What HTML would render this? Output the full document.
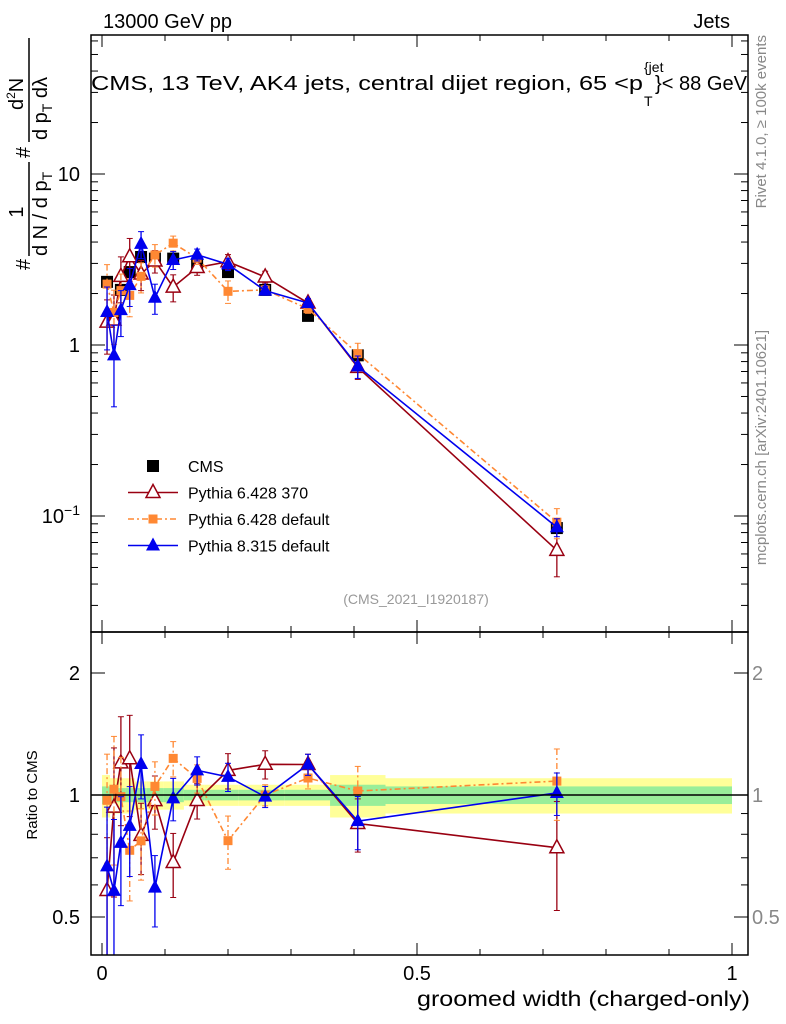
<!DOCTYPE html>
<html><head><meta charset="utf-8"><style>
body{margin:0;background:#fff;}
svg{display:block;font-family:"Liberation Sans",sans-serif;}
</style></head><body>
<svg id="chart" width="786" height="1024" xmlns="http://www.w3.org/2000/svg">
<defs><clipPath id="clipTop"><rect x="91" y="35" width="657" height="597"/></clipPath><clipPath id="clipRatio"><rect x="91" y="632" width="657" height="323"/></clipPath></defs>
</svg>
<script>
const xs=[0.008,0.019,0.030,0.044,0.062,0.084,0.113,0.151,0.200,0.259,0.327,0.406,0.722];
const cmsVals=[2.34,1.5,2.1,2.67,3.27,3.2,3.2,2.93,2.67,2.1,1.48,0.87,0.085];
const red370=[1.36,1.4,2.52,3.28,2.6,3.1,2.18,2.84,3.07,2.5,1.76,0.74,0.063];
const orangeDef=[2.27,1.55,2.08,1.95,2.52,3.36,3.94,3.22,2.06,2.1,1.63,0.89,0.092];
const blue8=[1.56,0.87,1.6,2.24,3.9,1.89,3.14,3.37,2.96,2.08,1.76,0.75,0.086];
const redErr=[0.35,0.4,0.3,0.28,0.2,0.15,0.18,0.1,0.1,0.08,0.06,0.15,0.3];
const orangeErr=[0.3,0.35,0.25,0.25,0.2,0.15,0.1,0.08,0.15,0.06,0.06,0.15,0.2];
const blueErr=[0.4,0.5,0.3,0.25,0.18,0.2,0.12,0.08,0.08,0.06,0.06,0.15,0.12];
const binEdges=[0,0.0127,0.0254,0.038,0.052,0.071,0.097,0.130,0.163,0.217,0.290,0.362,0.45,1.0];
const yellowBand=[0.12,0.10,0.10,0.10,0.08,0.08,0.08,0.06,0.06,0.06,0.06,0.12,0.10];
const greenBand=[0.05,0.04,0.04,0.04,0.04,0.04,0.04,0.03,0.03,0.03,0.03,0.06,0.05];

const NS="http://www.w3.org/2000/svg";
const svg=document.getElementById('chart');
const L=91,R=748,T=35,M=632,B=955;
const X=v=>102+630*v;
const Y=v=>345-171*Math.log10(v);
const YR=v=>795-122*Math.log2(v);
function el(tag,attrs,parent){const e=document.createElementNS(NS,tag);for(const k in attrs)e.setAttribute(k,attrs[k]);(parent||svg).appendChild(e);return e;}
function txt(s,attrs,parent){const e=el('text',attrs,parent);e.textContent=s;return e;}

const gTop=el('g',{'clip-path':'url(#clipTop)'});

const gRat=el('g',{'clip-path':'url(#clipRatio)'});


for(let i=0;i<yellowBand.length;i++){
  const x0=X(binEdges[i]),x1=X(binEdges[i+1]);
  const y=el('rect',{x:x0,y:YR(1+yellowBand[i]),width:x1-x0,height:YR(1-yellowBand[i])-YR(1+yellowBand[i]),fill:'#ffff99'},gRat);
  
  
  const g=el('rect',{x:x0,y:YR(1+greenBand[i]),width:x1-x0,height:YR(1-greenBand[i])-YR(1+greenBand[i]),fill:'#99ee99'},gRat);
  
  
}
el('line',{x1:L,x2:R,y1:YR(1),y2:YR(1),stroke:'#000','stroke-width':1.5});

const f1=el('rect',{x:L,y:T,width:R-L,height:M-T,fill:'none',stroke:'#000','stroke-width':1.5});

const f2=el('rect',{x:L,y:M,width:R-L,height:B-M,fill:'none',stroke:'#000','stroke-width':1.5});


for(let k=0;k<=10;k++){const v=k/10,x=X(v),len=(k%5==0)?12:6;
  [[T,1],[M,-1],[M,1],[B,-1]].forEach(([y0,d])=>el('line',{x1:x,x2:x,y1:y0,y2:y0+d*len,stroke:'#000'}));
}
[0,0.5,1].forEach(v=>{const t=txt(String(v),{x:X(v),y:980,'font-size':20,'text-anchor':'middle'});});
for(let d=-2;d<=1;d++){for(let m=1;m<10;m++){const v=m*Math.pow(10,d);const y=Y(v);if(y<T||y>M)continue;const len=m==1?14:7;
  el('line',{x1:L,x2:L+len,y1:y,y2:y,stroke:'#000'});el('line',{x1:R,x2:R-len,y1:y,y2:y,stroke:'#000'});}}
[[10,'10'],[1,'1']].forEach(([v,s])=>{const t=txt(s,{x:80,y:Y(v)+7,'font-size':20,'text-anchor':'end'});});
{const t=el('text',{x:80,y:Y(0.1)+7,'font-size':20,'text-anchor':'end'});t.innerHTML='10<tspan dy="-8" font-size="14">−1</tspan>';}
[0.5,0.6,0.7,0.8,0.9,1,2].forEach(v=>{const y=YR(v);const len=(v==0.5||v==1||v==2)?14:7;el('line',{x1:L,x2:L+len,y1:y,y2:y,stroke:'#000'});el('line',{x1:R,x2:R-len,y1:y,y2:y,stroke:'#000'});});
[[2,'2'],[1,'1'],[0.5,'0.5']].forEach(([v,s])=>{const t=txt(s,{x:80,y:YR(v)+7,'font-size':20,'text-anchor':'end'});const t2=txt(s,{x:752,y:YR(v)+7,'font-size':20,'fill':'#888'});});

function series(vals,err,color,marker,dash,name,ratio){
  const P=ratio?gRat:gTop;
  const yf=ratio?(v=>YR(v)):Y;
  const data=ratio?vals.map((v,i)=>v/cmsVals[i]):vals;
  if(color){const pts=data.map((v,i)=>X(xs[i])+','+yf(v)).join(' ');
    const pl=el('polyline',{points:pts,fill:'none',stroke:color,'stroke-width':1.6,'stroke-dasharray':dash||'none'},P);
    }
  data.forEach((v,i)=>{const x=X(xs[i]),c=color||'#000';
    if(err){const y1=yf(v*(1+err[i])),y2=yf(Math.max(v*(1-err[i]),0.01));
      el('line',{x1:x,x2:x,y1:y1,y2:y2,stroke:c,'stroke-width':1.3,'stroke-dasharray':dash||'none'},P);
      el('line',{x1:x-3,x2:x+3,y1:y1,y2:y1,stroke:c},P);el('line',{x1:x-3,x2:x+3,y1:y2,y2:y2,stroke:c},P);}
    const y=yf(v);let m;
    if(marker=='sq')m=el('rect',{x:x-6,y:y-6,width:12,height:12,fill:c},P);
    else if(marker=='osq')m=el('rect',{x:x-4.5,y:y-4.5,width:9,height:9,fill:c},P);
    else if(marker=='tri')m=el('polygon',{points:`${x},${y-8} ${x-7},${y+5} ${x+7},${y+5}`,fill:c},P);
    else m=el('polygon',{points:`${x},${y-8} ${x-7},${y+5} ${x+7},${y+5}`,fill:'#fff',stroke:c,'stroke-width':1.5},P);
    
  });
}
series(cmsVals,null,null,'sq',null,'cms',false);
series(red370,redErr,'#990011','otri',null,'pythia6-370',false);
series(orangeDef,orangeErr,'#ff8833','osq','6,3,2,3','pythia6-default',false);
series(blue8,blueErr,'#0000ee','tri',null,'pythia8-default',false);
series(red370,redErr,'#990011','otri',null,'pythia6-370-ratio',true);
series(orangeDef,orangeErr,'#ff8833','osq','6,3,2,3','pythia6-default-ratio',true);
series(blue8,blueErr,'#0000ee','tri',null,'pythia8-default-ratio',true);

const leg=[['CMS','#000','sq',null],['Pythia 6.428 370','#990011','otri',null],['Pythia 6.428 default','#ff8833','osq','6,3,2,3'],['Pythia 8.315 default','#0000ee','tri',null]];
leg.forEach((l,i)=>{const y=466+i*26.5,x=153;
  if(i>0)el('line',{x1:128,x2:178,y1:y,y2:y,stroke:l[1],'stroke-width':1.6,'stroke-dasharray':l[3]||'none'});
  let m;if(l[2]=='sq')m=el('rect',{x:x-6,y:y-6,width:12,height:12,fill:'#000'});
  else if(l[2]=='osq')m=el('rect',{x:x-4.5,y:y-4.5,width:9,height:9,fill:l[1]});
  else if(l[2]=='tri')m=el('polygon',{points:`${x},${y-8} ${x-7},${y+5} ${x+7},${y+5}`,fill:l[1]});
  else m=el('polygon',{points:`${x},${y-8} ${x-7},${y+5} ${x+7},${y+5}`,fill:'#fff',stroke:l[1],'stroke-width':1.5});
  
  const t=txt(l[0],{x:188,y:y+6,'font-size':16});
});

let t;
t=txt('13000 GeV pp',{x:103,y:28,'font-size':20});
t=txt('Jets',{x:730,y:28,'font-size':20,'text-anchor':'end'});
t=txt('CMS, 13 TeV, AK4 jets, central dijet region, 65 <p',{x:91,y:90,'font-size':20,textLength:552,lengthAdjust:'spacingAndGlyphs'});
t=txt('{jet',{x:644,y:72,'font-size':14});
t=txt('T',{x:644,y:106,'font-size':14});
t=txt('}< 88 GeV',{x:655,y:90,'font-size':20,textLength:92,lengthAdjust:'spacingAndGlyphs'});
t=txt('(CMS_2021_I1920187)',{x:416,y:604,'font-size':14,fill:'#999','text-anchor':'middle'});
t=txt('groomed width (charged-only)',{x:417,y:1006,'font-size':21,textLength:333,lengthAdjust:'spacingAndGlyphs'});
t=txt('Ratio to CMS',{x:0,y:0,'font-size':15,'text-anchor':'middle',transform:'translate(37,795) rotate(-90)'});

const ya=el('g',{transform:'translate(0,270) rotate(-90)'});

txt('#',{x:0,y:30,'font-size':20},ya);
txt('1',{x:58,y:23,'font-size':20,'text-anchor':'middle'},ya);
el('line',{x1:14,x2:108,y1:29,y2:29,stroke:'#000','stroke-width':1.5},ya);
const dn=el('text',{x:14,y:47,'font-size':20},ya);dn.innerHTML='d N / d p<tspan font-size="14" dy="5">T</tspan>';
txt('#',{x:112,y:30,'font-size':20},ya);
const nm=el('text',{x:160,y:23,'font-size':20},ya);nm.innerHTML='d<tspan font-size="12" dy="-8">2</tspan><tspan dy="8">N</tspan>';
el('line',{x1:128,x2:232,y1:29,y2:29,stroke:'#000','stroke-width':1.5},ya);
const dd=el('text',{x:130,y:47,'font-size':20},ya);dd.innerHTML='d p<tspan font-size="14" dy="5">T</tspan><tspan dy="-5"> dλ</tspan>';

t=txt('Rivet 4.1.0, ≥ 100k events',{x:0,y:0,'font-size':15,fill:'#888','text-anchor':'end',transform:'translate(766,35) rotate(-90)'});
t=txt('mcplots.cern.ch [arXiv:2401.10621]',{x:0,y:0,'font-size':15,fill:'#888','text-anchor':'end',transform:'translate(766,330) rotate(-90)'});
</script>
</body></html>
